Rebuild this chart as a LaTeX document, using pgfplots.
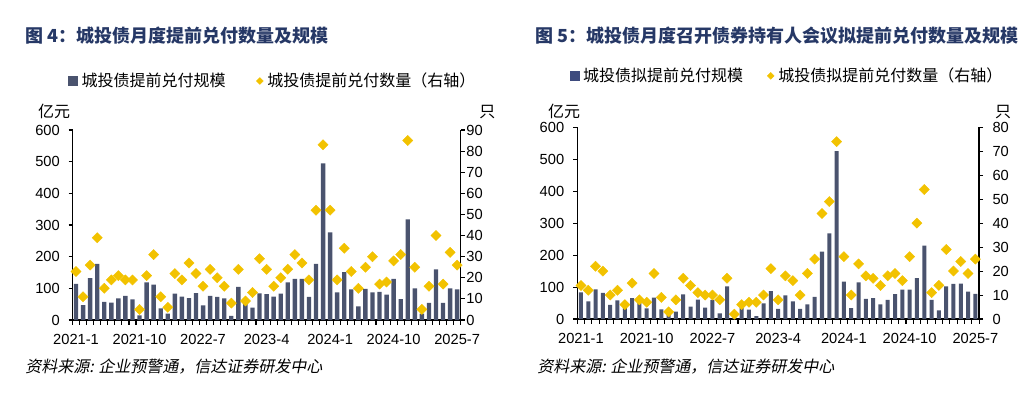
\documentclass[border=0pt]{standalone}
\usepackage{fontspec}
\usepackage{pgfplots}
\usepackage{pgfplotstable}
\pgfplotsset{compat=1.18}
\setmainfont{Liberation Sans}
\newfontfamily\cjk{Noto Sans CJK SC}
\newfontfamily\cjkit{Noto Sans CJK SC}[FakeSlant=0.2]
\definecolor{barcol}{HTML}{4A536E}
\definecolor{barleg}{HTML}{3E4B7E}
\definecolor{gold}{HTML}{F2C200}
\definecolor{titlecol}{HTML}{263866}

% i: month index from 2021-1; v: amount (yi yuan); n: count (right axis)
\pgfplotstableread{
i v n
0 114 23
1 47 11
2 132 26
3 177 39
4 57 15
5 55 19
6 68 21
7 76 19
8 65 19
9 15 5
10 119 21
11 112 31
12 37 11
13 20 6
14 83 22
15 74 19
16 69 27
17 85 22
18 46 16
19 76 24
20 73 20
21 68 16
22 13 8
23 105 24
24 50 9
25 39 13
26 84 29
27 82 24
28 74 16
29 83 20
30 119 24
31 130 31
32 130 27
33 73 19
34 177 52
35 495 83
36 277 52
37 87 19
38 151 34
39 97 23
40 43 15
41 98 25
42 87 30
43 89 17
44 80 18
45 130 28
46 66 31
47 318 85
48 100 25
49 20 5
50 54 16
51 160 40
52 54 17
53 100 32
54 97 26
}\leftdata

\pgfplotstableread{
i v n
0 83 14
1 55 12
2 93 22
3 82 20
4 44 10
5 58 12
6 35 6
7 65 15
8 50 8
9 33 7
10 67 19
11 30 9
12 19 3
13 23 8
14 77 17
15 39 14
16 61 11
17 36 10
18 60 10
19 18 8
20 102 17
21 4 2
22 35 6
23 29 7
24 9 7
25 49 10
26 87 21
27 32 8
28 74 18
29 55 16
30 32 10
31 46 19
32 69 25
33 211 44
34 268 49
35 525 74
36 117 26
37 34 10
38 115 23
39 63 18
40 65 17
41 46 14
42 60 18
43 78 19
44 92 16
45 92 26
46 128 40
47 230 54
48 60 11
49 27 14
50 102 29
51 110 20
52 111 24
53 86 19
54 79 25
}\rightdata

\pgfplotsset{
  mybase/.style={
    scale only axis, anchor=south west,
    xmin=-0.5, xmax=54.5,
    axis line style={line width=1.1pt, black},
    tick style={line width=0.8pt, black},
    tick align=outside,
    major tick length=3pt,
    minor tick length=3.5pt,
    ticklabel style={font=\fontsize{11}{13}\selectfont},
    /pgf/number format/assume math mode=true,
    clip=false,
  },
  barbase/.style={
    mybase,
    ymin=0, ymax=600, ytick={0,100,...,600},
    axis x line*=bottom, axis y line*=left,
    xtick={0,9,...,54},
    xticklabels={2021-1,2021-10,2022-7,2023-4,2024-1,2024-10,2025-7},
    major x tick style={draw=none},
    minor xtick={-0.5,0.5,...,54.5},
    xticklabel style={yshift=-4.4pt},
    legend style={draw=none, fill=none, legend columns=2,
      font=\cjk\fontsize{12}{14}\selectfont, inner sep=0pt,
      nodes={inner sep=0pt},
      /tikz/every odd column/.append style={column sep=3pt}},
  },
  dotbase/.style={
    mybase,
    ymin=0,
    axis x line=none, axis y line*=right,
  },
  dots/.style={only marks, color=gold, mark=square*, mark size=2.7pt,
    mark options={rotate=45, fill=gold, draw=gold, line width=0.3pt, solid}},
}

\begin{document}
\begin{tikzpicture}
\path[use as bounding box] (0pt,0pt) rectangle (776.25pt,-294.75pt);

% ---------------- left panel ----------------
\node[anchor=west, inner sep=0pt, text=titlecol] at (18.75pt,-27pt)
  {\cjk\bfseries\fontsize{13.5}{16}\selectfont 图 4：城投债月度提前兑付数量及规模};

\begin{axis}[barbase, at={(54.375pt,-240pt)}, width=291.15pt, height=142.5pt,
  yticklabel style={xshift=-3pt},
  legend style={at={(rel axis cs:-0.0124,1.258)}, anchor=west,
    /tikz/every even column/.append style={column sep=23pt}},
]
\addplot[ybar, bar width=0.62, fill=barcol, draw=none, forget plot] table[x=i, y=v] {\leftdata};
\addlegendimage{legend image code/.code={\fill[barcol] (0pt,-3.4pt) rectangle (6.8pt,3.4pt);}}
\addlegendentry{城投债提前兑付规模}
\addlegendimage{legend image code/.code={\fill[gold] (0pt,0pt) -- (2.5pt,2.5pt) -- (5pt,0pt) -- (2.5pt,-2.5pt) -- cycle;}}
\addlegendentry{城投债提前兑付数量（右轴）}
\end{axis}

\begin{axis}[dotbase, at={(54.375pt,-240pt)}, width=291.15pt, height=142.5pt,
  ymax=90, ytick={0,10,...,90},
  yticklabel style={xshift=-2.2pt},
]
\addplot[dots] table[x=i, y=n] {\leftdata};
\end{axis}

\node[inner sep=0pt] at (40.5pt,-83.8pt) {\cjk\fontsize{12}{14}\selectfont 亿元};
\node[inner sep=0pt] at (365.6pt,-83.8pt) {\cjk\fontsize{12}{14}\selectfont 只};
\node[anchor=west, inner sep=0pt] at (18.75pt,-275.25pt)
  {\cjkit\fontsize{12}{14}\selectfont 资料来源: 企业预警通，信达证券研发中心};

% ---------------- right panel ----------------
\node[anchor=west, inner sep=0pt, text=titlecol] at (401.25pt,-27pt)
  {\cjk\bfseries\fontsize{13.5}{16}\selectfont 图 5：城投债月度召开债券持有人会议拟提前兑付数量及规模};

\begin{axis}[barbase, at={(432.98pt,-239.25pt)}, width=301.3pt, height=143.8pt,
  yticklabel style={xshift=-3.3pt},
  legend style={at={(rel axis cs:-0.020,1.268)}, anchor=west,
    /tikz/every even column/.append style={column sep=18pt}},
]
\addplot[ybar, bar width=0.55, fill=barcol, draw=none, forget plot] table[x=i, y=v] {\rightdata};
\addlegendimage{legend image code/.code={\fill[barleg] (0pt,-3.4pt) rectangle (6.8pt,3.4pt);}}
\addlegendentry{城投债拟提前兑付规模}
\addlegendimage{legend image code/.code={\fill[gold] (0pt,0pt) -- (2.5pt,2.5pt) -- (5pt,0pt) -- (2.5pt,-2.5pt) -- cycle;}}
\addlegendentry{城投债拟提前兑付数量（右轴）}
\end{axis}

\begin{axis}[dotbase, at={(432.98pt,-239.25pt)}, width=301.3pt, height=143.8pt,
  ymax=80, ytick={0,10,...,80},
  yticklabel style={xshift=3.6pt},
]
\addplot[dots] table[x=i, y=n] {\rightdata};
\end{axis}

\node[inner sep=0pt] at (423pt,-83.8pt) {\cjk\fontsize{12}{14}\selectfont 亿元};
\node[inner sep=0pt] at (752.3pt,-83.8pt) {\cjk\fontsize{12}{14}\selectfont 只};
\node[anchor=west, inner sep=0pt] at (402.75pt,-275.25pt)
  {\cjkit\fontsize{12}{14}\selectfont 资料来源: 企业预警通，信达证券研发中心};
\end{tikzpicture}
\end{document}
